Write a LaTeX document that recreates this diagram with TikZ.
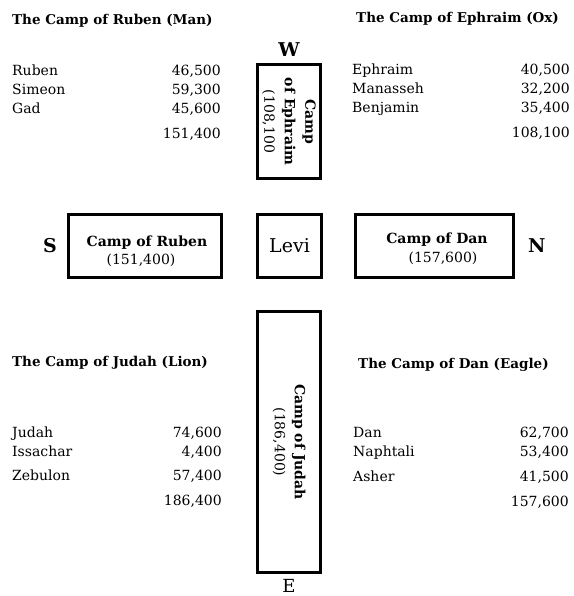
\documentclass[tikz,border=0pt]{standalone}
\usepackage{fontspec}
\setmainfont{DejaVu Serif}
\usetikzlibrary{positioning}

\tikzset{
  campbox/.style={draw,line width=3pt,inner sep=0pt},
  heading/.style={font=\bfseries\fontsize{13.5}{16}\selectfont,anchor=base west,inner sep=0pt},
  tribe/.style={font=\fontsize{14}{17}\selectfont,anchor=base west,inner sep=0pt},
  count/.style={font=\fontsize{14}{17}\selectfont,anchor=base east,inner sep=0pt},
  camptxt/.style={font=\bfseries\fontsize{14}{16}\selectfont,anchor=base,inner sep=0pt},
  sumtxt/.style={font=\fontsize{14}{16}\selectfont,anchor=base,inner sep=0pt},
  compass/.style={font=\bfseries\fontsize{19}{20}\selectfont,inner sep=0pt},
}

\begin{document}
\begin{tikzpicture}[x=1pt,y=-1pt,node distance=8pt]
\useasboundingbox (0,0) rectangle (573,596);
% camps round the tabernacle
\node[campbox,minimum width=63pt,minimum height=114pt](ephraim) at (289,121.5) {};
\node[campbox,minimum width=63pt,minimum height=261pt](judah) at (289,442) {};
\node[campbox,minimum width=63.5pt,minimum height=63pt](levi) at (289.5,246) {};
\node[campbox,minimum width=153pt,minimum height=63pt](ruben) at (145,246) {};
\node[campbox,minimum width=158pt,minimum height=63pt](dan) at (434.5,246) {};

\node[rotate=-90,align=center,inner sep=0pt,font=\fontsize{14}{20.5}\selectfont]
  (ephraimlbl) at (ephraim.center) {\textbf{Camp}\\\textbf{of Ephraim}\\(108,100};
\node[rotate=-90,align=center,inner sep=0pt,font=\fontsize{14}{20}\selectfont]
  (judahlbl) at (judah.center) {\textbf{Camp of Judah}\\(186,400)};
\node[font=\fontsize{19}{20}\selectfont] (levilbl) at (levi.center) {Levi};
\node[camptxt] (rubenlbl) at (147,246) {Camp of Ruben};
\node[sumtxt] (rubensum) at (141,264) {(151,400)};
\node[camptxt] (danlbl) at (437,243) {Camp of Dan};
\node[sumtxt] (dansum) at (443,262) {(157,600)};

% compass points
\node[compass,above=6pt of ephraim] (w) {W};
\node[compass,below=5pt of judah,font=\fontsize{18}{20}\selectfont] (e) {E};
\node[compass,left=10pt of ruben] (s) {S};
\node[compass,right=13pt of dan] (n) {N};

% the four standards
\node[heading] (hruben) at (12,25) {The Camp of Ruben (Man)};
\node[tribe] (t1) at (12,76) {Ruben};   \node[count] (c1) at (221,76) {46,500};
\node[tribe] (t2) at (12,95) {Simeon};  \node[count] (c2) at (221,95) {59,300};
\node[tribe] (t3) at (12,114) {Gad};    \node[count] (c3) at (221,114) {45,600};
\node[count] (rubentot) at (221,139) {151,400};

\node[heading] (hephraim) at (356,23) {The Camp of Ephraim (Ox)};
\node[tribe] (t4) at (352,75) {Ephraim};   \node[count] (c4) at (570,75) {40,500};
\node[tribe] (t5) at (352,94) {Manasseh};  \node[count] (c5) at (570,94) {32,200};
\node[tribe] (t6) at (352,113) {Benjamin}; \node[count] (c6) at (570,113) {35,400};
\node[count] (ephraimtot) at (570,138) {108,100};

\node[heading] (hjudah) at (12,366) {The Camp of Judah (Lion)};
\node[tribe] (t7) at (12,437) {Judah};    \node[count] (c7) at (222,437) {74,600};
\node[tribe] (t8) at (12,456) {Issachar}; \node[count] (c8) at (222,456) {4,400};
\node[tribe] (t9) at (12,480) {Zebulon};  \node[count] (c9) at (222,480) {57,400};
\node[count] (judahtot) at (222,505) {186,400};

\node[heading] (hdan) at (358,368) {The Camp of Dan (Eagle)};
\node[tribe] (t10) at (353,437) {Dan};      \node[count] (c10) at (569,437) {62,700};
\node[tribe] (t11) at (353,456) {Naphtali}; \node[count] (c11) at (569,456) {53,400};
\node[tribe] (t12) at (353,481) {Asher};    \node[count] (c12) at (569,481) {41,500};
\node[count] (dantot) at (569,506) {157,600};
\end{tikzpicture}
\end{document}
